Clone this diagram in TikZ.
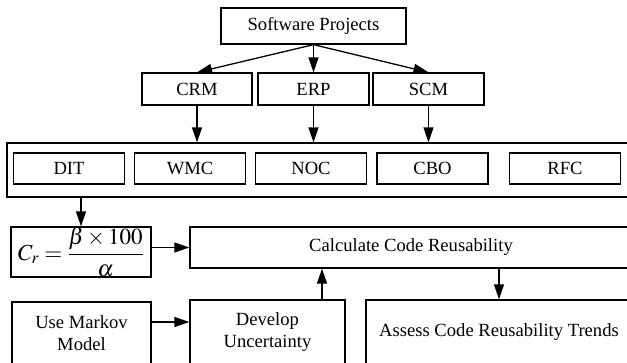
\documentclass[tikz,border=0pt]{standalone}
\usepackage{amsmath}
\usepackage{mathptmx}
\usepackage[no-math]{fontspec}
\setmainfont{Liberation Serif}
\usetikzlibrary{arrows.meta}
\tikzset{>={Triangle[length=15pt,width=10pt]},
  box/.style={draw, line width=1.3pt, inner sep=0pt, align=center,
    font=\fontsize{18.6}{22}\selectfont}}

\begin{document}
\begin{tikzpicture}[x=1pt,y=-1pt,line width=1.3pt]
\useasboundingbox (0,0) rectangle (627,362);
\clip (0,0) rectangle (627,362);
\node[box, minimum width=185pt, minimum height=36pt] (proj) at (313.5,26) {Software Projects};
\node[box, minimum width=110pt, minimum height=32pt] (crm) at (197,89) {CRM};
\node[box, minimum width=111pt, minimum height=32pt] (erp) at (313.5,89) {ERP};
\node[box, minimum width=111pt, minimum height=32pt] (scm) at (428.5,89) {SCM};
\node[box, minimum width=625pt, minimum height=54pt] (metrics) at (319.5,170) {};
\foreach \m/\x in {DIT/69, WMC/190, NOC/311, CBO/432.5, RFC/565}
  \node[box, minimum width=111pt, minimum height=31pt] (\m) at (\x,168.5) {\m};
\node[box, minimum width=140pt, minimum height=50pt] (ratio) at (81,252)
  {\fontsize{23}{26}\selectfont $C_r=\dfrac{\beta\times100}{\alpha}$};
\node[box, minimum width=442pt, minimum height=41pt] (calc) at (411,247.5) {Calculate Code Reusability};
\node[box, minimum width=139pt, minimum height=63pt] (markov) at (81.5,333.5) {Use Markov\\Model};
\node[box, minimum width=155pt, minimum height=65pt] (develop) at (267.5,332.5) {Develop\\Uncertainty};
\node[box, minimum width=266pt, minimum height=65pt] (assess) at (499,332.5) {Assess Code Reusability Trends};

\draw[->] (proj.south) -- (crm.north);
\draw[->] (proj.south) -- (erp.north);
\draw[->] (proj.south) -- (scm.north);
\foreach \s in {crm,erp,scm}
  \draw[->] (\s.south) -- (\s.south |- metrics.north);
\draw[->] (ratio.north |- metrics.south) -- (ratio.north);
\draw[->] (calc.west -| ratio.east) -- (calc.west);
\draw[->] ([yshift=11.5pt]markov.east) -- ([yshift=11.5pt]markov.east -| develop.west);
\draw[->] ([xshift=54.5pt]develop.north) -- ([xshift=54.5pt]develop.north |- calc.south);
\draw[->] (assess.north |- calc.south) -- (assess.north);
\end{tikzpicture}
\end{document}
